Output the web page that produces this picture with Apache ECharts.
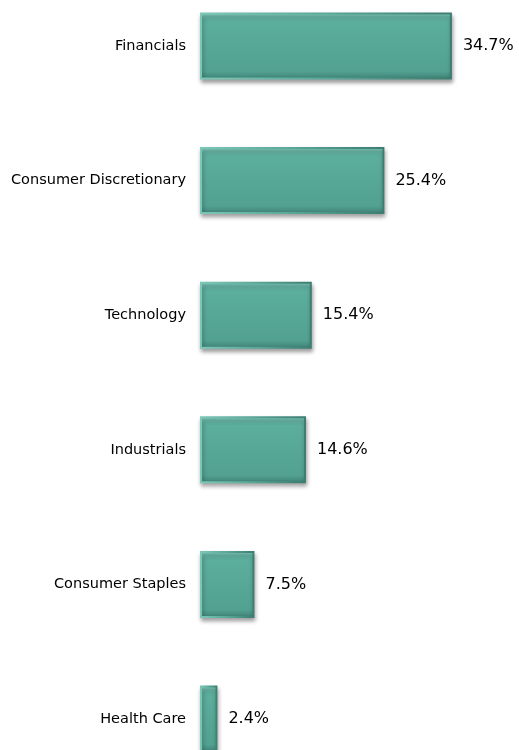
<!DOCTYPE html>
<html>
<head>
<meta charset="utf-8">
<script src="https://cdn.jsdelivr.net/npm/echarts@6/dist/echarts.min.js"></script>
<style>html,body{margin:0;padding:0;background:#fff}#c{width:519px;height:750px}</style>
</head>
<body>
<div id="c"></div>
<script>
var categories = ['Financials', 'Consumer Discretionary', 'Technology', 'Industrials', 'Consumer Staples', 'Health Care'];
var values = [34.7, 25.4, 15.4, 14.6, 7.5, 2.4];

var chart = echarts.init(document.getElementById('c'));
chart.setOption({
  animation: false,
  grid: { left: 200, right: 28.6, top: 46, bottom: 31, containLabel: false },
  xAxis: { type: 'value', min: 0, max: 40, show: false },
  yAxis: {
    type: 'category', data: categories, inverse: true, boundaryGap: false,
    axisLine: { show: false }, axisTick: { show: false }, splitLine: { show: false },
    axisLabel: { color: '#000', fontFamily: 'Verdana, DejaVu Sans, sans-serif', fontSize: 14.5, margin: 14 }
  },
  series: [{
    type: 'bar', data: values, barWidth: 67, clip: false,
    itemStyle: {
      color: new echarts.graphic.LinearGradient(0, 0, 0, 1, [
        { offset: 0, color: '#94dacb' },
        { offset: 0.06, color: '#6cbcac' },
        { offset: 0.12, color: '#5cae9d' },
        { offset: 0.88, color: '#52a191' },
        { offset: 0.95, color: '#468d80' },
        { offset: 1, color: '#3a7a6e' }
      ]),
      borderColor: new echarts.graphic.LinearGradient(0, 0, 1, 0, [
        { offset: 0, color: '#7cc8b8' },
        { offset: 0.5, color: '#58a797' },
        { offset: 1, color: '#3d7d71' }
      ]),
      borderWidth: 2,
      shadowColor: 'rgba(0,0,0,0.35)', shadowBlur: 4, shadowOffsetY: 3, shadowOffsetX: 1
    },
    label: {
      show: true, position: 'right', distance: 11, color: '#000',
      fontFamily: 'Verdana, DejaVu Sans, sans-serif', fontSize: 16,
      formatter: function (p) { return p.value.toFixed(1) + '%'; }
    }
  }]
});
</script>
</body>
</html>
